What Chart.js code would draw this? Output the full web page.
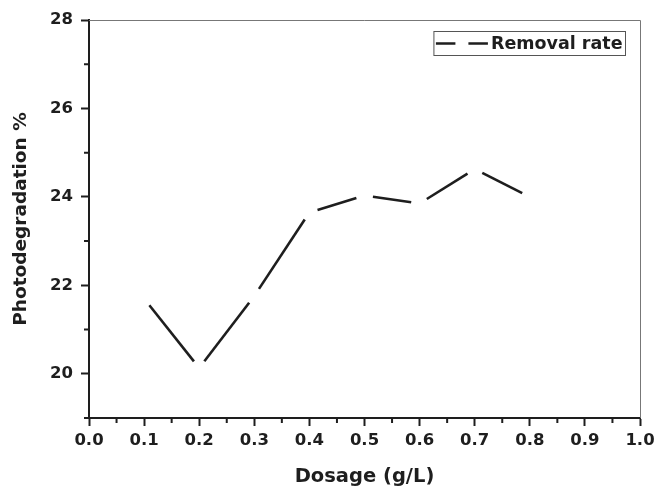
<!DOCTYPE html>
<html>
<head>
<meta charset="utf-8">
<script src="https://cdn.jsdelivr.net/npm/chart.js@4/dist/chart.umd.min.js"></script>
<style>
  html, body { margin: 0; padding: 0; background: #fff; }
  #wrap { width: 656px; height: 489px; position: relative; }
</style>
</head>
<body>
<div id="wrap"><canvas id="myChart"></canvas></div>
<script>
const dosage = [0.1, 0.2, 0.3, 0.4, 0.5, 0.6, 0.7, 0.8];
const removalRate = [21.7, 20.13, 21.76, 23.65, 24.03, 23.85, 24.63, 24.0];
const xTickVals = [0, 0.1, 0.2, 0.3, 0.4, 0.5, 0.6, 0.7, 0.8, 0.9, 1.0];
const xMinorVals = [0.05, 0.15, 0.25, 0.35, 0.45, 0.55, 0.65, 0.75, 0.85, 0.95];
const yTickVals = [20, 22, 24, 26, 28];
const yMinorVals = [19, 21, 23, 25, 27];
const seriesName = "Removal rate";

const ink = "#1e1e1e";
const FONT = "'DejaVu Sans', sans-serif";

// gap left at both ends of every segment between two points
const END_GAP = 8.5;

// short ticks between the labelled ones, plus the thin top/right frame
const frameTicks = {
  id: "frameTicks",
  afterDraw(chart) {
    const { ctx, chartArea: a } = chart;
    const xs = chart.scales.x, ys = chart.scales.y;
    ctx.save();
    ctx.strokeStyle = "#777";
    ctx.lineWidth = 1;
    ctx.beginPath();
    ctx.moveTo(a.left, a.top + 0.5);
    ctx.lineTo(a.right + 0.5, a.top + 0.5);
    ctx.lineTo(a.right + 0.5, a.bottom);
    ctx.stroke();

    ctx.strokeStyle = ink;
    ctx.lineWidth = 2;
    ctx.beginPath();
    xMinorVals.forEach(v => {
      const px = xs.getPixelForValue(v);
      ctx.moveTo(px, a.bottom);
      ctx.lineTo(px, a.bottom + 5);
    });
    yMinorVals.forEach(v => {
      const py = ys.getPixelForValue(v);
      ctx.moveTo(a.left, py);
      ctx.lineTo(a.left - 5, py);
    });
    ctx.stroke();
    ctx.restore();
  }
};

// boxed legend sitting in the upper right corner of the plot
const boxLegend = {
  id: "boxLegend",
  afterDraw(chart) {
    const { ctx, chartArea: a } = chart;
    const ds = chart.data.datasets[0];
    ctx.save();
    ctx.font = "bold 17.5px " + FONT;
    const tw = ctx.measureText(seriesName).width;
    const right = a.right - 14.5;
    const top = a.top + 11.5;
    const h = 24;
    const textX = right - 3 - tw;
    const symW = 52;
    const left = textX - symW - 5;
    const cy = top + h / 2;

    ctx.strokeStyle = "#555";
    ctx.lineWidth = 1;
    ctx.strokeRect(left, top, right - left, h);

    ctx.strokeStyle = ds.borderColor;
    ctx.lineWidth = ds.borderWidth;
    ctx.setLineDash([19.5, 13]);
    ctx.beginPath();
    ctx.moveTo(left + 2, cy);
    ctx.lineTo(left + 2 + symW, cy);
    ctx.stroke();

    ctx.setLineDash([]);
    ctx.fillStyle = ink;
    ctx.textBaseline = "middle";
    ctx.fillText(seriesName, textX, cy + 1);
    ctx.restore();
  }
};

const data = {
  datasets: [
    {
      label: seriesName,
      data: dosage.map((d, i) => ({ x: d, y: removalRate[i] })),
      borderColor: ink,
      borderWidth: 2.6,
      borderCapStyle: "butt",
      pointRadius: 0,
      tension: 0,
      segment: {
        borderDash: c => {
          const len = Math.hypot(c.p1.x - c.p0.x, c.p1.y - c.p0.y);
          return [Math.max(len - 2 * END_GAP, 0), 2 * END_GAP];
        },
        borderDashOffset: -END_GAP,
      },
    },
  ],
};

const config = {
  type: "line",
  data: data,
  options: {
    responsive: true,
    maintainAspectRatio: false,
    animation: false,
    layout: { padding: { left: 0, right: 16, top: 20, bottom: 0 } },
    plugins: {
      legend: { display: false },
      tooltip: { enabled: false },
    },
    scales: {
      x: {
        type: "linear",
        min: 0,
        max: 1,
        afterBuildTicks: s => { s.ticks = xTickVals.map(v => ({ value: v })); },
        afterFit: s => { s.height = 71; s.paddingLeft = 0; s.paddingRight = 0; },
        grid: { display: true, drawOnChartArea: false, tickLength: 8, tickWidth: 2, tickColor: ink },
        border: { color: ink, width: 2 },
        ticks: {
          color: ink,
          padding: 5,
          maxRotation: 0,
          font: { family: FONT, size: 16.5, weight: "bold" },
          callback: v => Number(v).toFixed(1),
        },
        title: {
          display: true,
          text: "Dosage (g/L)",
          color: ink,
          padding: { top: 0, bottom: 0 },
          font: { family: FONT, size: 19.5, weight: "bold" },
        },
      },
      y: {
        min: 19,
        max: 28,
        afterBuildTicks: s => { s.ticks = yTickVals.map(v => ({ value: v })); },
        afterFit: s => { s.width = 89; s.paddingTop = 0; s.paddingBottom = 0; },
        grid: { display: true, drawOnChartArea: false, tickLength: 8, tickWidth: 2, tickColor: ink },
        border: { color: ink, width: 2 },
        ticks: {
          color: ink,
          padding: 8,
          font: { family: FONT, size: 16.5, weight: "bold" },
        },
        title: {
          display: true,
          text: "Photodegradation %",
          color: ink,
          padding: { top: 10, bottom: 0 },
          font: { family: FONT, size: 18.5, weight: "bold" },
        },
      },
    },
  },
  plugins: [frameTicks, boxLegend],
};

const myChart = new Chart(document.getElementById("myChart"), config);
</script>
</body>
</html>
